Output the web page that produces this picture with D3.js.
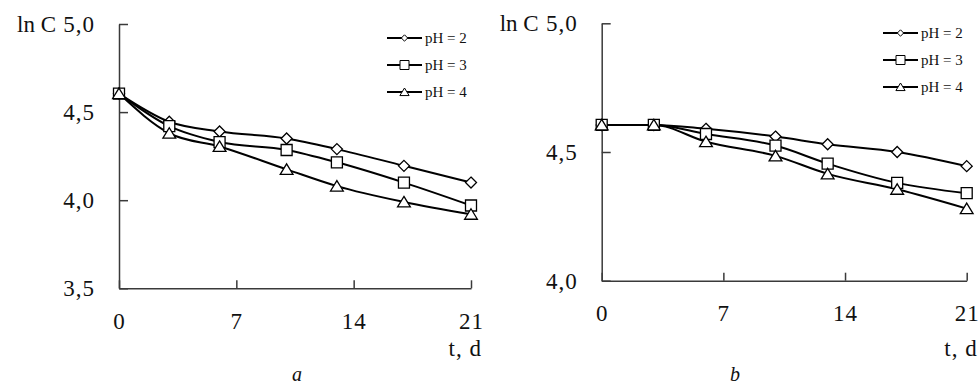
<!DOCTYPE html>
<html>
<head>
<meta charset="utf-8">
<script src="https://cdn.jsdelivr.net/npm/d3@7"></script>
<style>
  body { margin: 0; background: #fff; }
  svg { display: block; }
  text { font-family: "Liberation Serif", "Times New Roman", serif; fill: #111; }
  .axis path, .axis line { stroke: #3a3a3a; stroke-width: 1.5; }
  .axis text { font-family: "Liberation Serif", "Times New Roman", serif; font-size: 23px; letter-spacing: 1px; }
</style>
</head>
<body>
<svg id="chart" width="979" height="385"></svg>
<script>
// sampling days (same for both panels)
const days = [0, 3, 6, 10, 13, 17, 21]
const seriesNames = ['pH = 2', 'pH = 3', 'pH = 4']
const xTicks = [0, 7, 14, 21]

// panel a
const lnC_a_pH2 = [4.605, 4.445, 4.39, 4.35, 4.29, 4.195, 4.10]
const lnC_a_pH3 = [4.605, 4.42, 4.33, 4.285, 4.215, 4.10, 3.97]
const lnC_a_pH4 = [4.605, 4.38, 4.305, 4.175, 4.08, 3.99, 3.92]
const yTicks_a = [3.5, 4.0, 4.5, 5.0]

// panel b
const lnC_b_pH2 = [4.605, 4.605, 4.59, 4.56, 4.53, 4.50, 4.445]
const lnC_b_pH3 = [4.605, 4.605, 4.57, 4.525, 4.455, 4.38, 4.34]
const lnC_b_pH4 = [4.605, 4.605, 4.54, 4.485, 4.415, 4.355, 4.28]
const yTicks_b = [4.0, 4.5, 5.0]

const svg = d3.select('#chart')
const comma = (d) => d3.format('.1f')(d).replace('.', ',')
const markerTypes = ['diamond', 'square', 'triangle']

/**
 * Path for one marker, centred on 0,0.
 */
function markerPath (type, s) {
  if (type === 'diamond') return `M0,${-s}L${s},0L0,${s}L${-s},0Z`
  if (type === 'square') return `M${-s},${-s}H${s}V${s}H${-s}Z`
  return `M0,${-s * 0.95}L${s * 1.1},${s * 0.85}L${-s * 1.1},${s * 0.85}Z`
}

const plotSize = { diamond: 5.5, square: 5.5, triangle: 5.8 }
const legendSize = { diamond: 3.2, square: 4.5, triangle: 4.2 }

function drawPanel (p) {
  const g = svg.append('g')
  const x = d3.scaleLinear().domain([0, 21]).range([p.x0, p.x1])
  const y = d3.scaleLinear().domain(p.yDomain).range([p.y0, p.y1])

  // axes, ticks pointing inward
  g.append('g')
    .attr('class', 'axis')
    .attr('transform', `translate(0,${p.y0})`)
    .call(d3.axisBottom(x).tickValues(xTicks).tickSize(-8).tickPadding(24).tickSizeOuter(0))
    .attr('font-family', null).attr('font-size', null)
  g.append('g')
    .attr('class', 'axis')
    .attr('transform', `translate(${p.x0},0)`)
    .call(d3.axisLeft(y).tickValues(p.yTicks).tickFormat(comma).tickSize(-9).tickPadding(24).tickSizeOuter(0))
    .attr('font-family', null).attr('font-size', null)

  g.append('text')
    .attr('x', p.x0 - 63)
    .attr('y', y(5) + 8)
    .attr('text-anchor', 'end')
    .style('font-size', '23px')
    .text('ln C')

  g.append('text')
    .attr('x', p.x1 + 11)
    .attr('y', 356)
    .attr('text-anchor', 'end')
    .style('font-size', '23px')
    .style('letter-spacing', '1px')
    .text('t, d')

  g.append('text')
    .attr('x', p.captionX)
    .attr('y', 381)
    .attr('text-anchor', 'middle')
    .style('font-size', '20px')
    .style('font-style', 'italic')
    .text(p.caption)

  const line = d3.line()
    .x((d, i) => x(days[i]))
    .y((d) => y(d))
    .curve(d3.curveMonotoneX)

  g.selectAll('.series-line')
    .data(p.series)
    .enter()
    .append('path')
    .classed('series-line', true)
    .attr('d', line)
    .attr('fill', 'none')
    .attr('stroke', '#000')
    .attr('stroke-width', 2)

  p.series.forEach((vals, si) => {
    const type = markerTypes[si]
    g.selectAll('.mk' + si)
      .data(vals)
      .enter()
      .append('path')
      .attr('class', 'mk' + si)
      .attr('d', markerPath(type, plotSize[type]))
      .attr('transform', (d, i) => `translate(${x(days[i])},${y(d)})`)
      .attr('fill', '#fff')
      .attr('stroke', '#000')
      .attr('stroke-width', 1.3)
  })

  // legend
  const leg = g.append('g').attr('transform', `translate(${p.legX},${p.legY})`)
  seriesNames.forEach((name, i) => {
    const row = leg.append('g').attr('transform', `translate(0,${i * 27})`)
    const type = markerTypes[i]
    row.append('line')
      .attr('x1', 0).attr('x2', 35)
      .attr('stroke', '#000').attr('stroke-width', 2.2)
    row.append('path')
      .attr('d', markerPath(type, legendSize[type]))
      .attr('transform', 'translate(17.5,0)')
      .attr('fill', '#fff')
      .attr('stroke', '#000')
      .attr('stroke-width', 1)
    row.append('text')
      .attr('x', 38)
      .attr('y', 5)
      .style('font-size', '15px')
      .text(name)
  })
}

drawPanel({
  x0: 119, x1: 471, y0: 288.3, y1: 24,
  yDomain: [3.5, 5.0], yTicks: yTicks_a,
  series: [lnC_a_pH2, lnC_a_pH3, lnC_a_pH4],
  legX: 387, legY: 38, caption: 'a', captionX: 297
})

drawPanel({
  x0: 601.7, x1: 966.7, y0: 280.7, y1: 23.3,
  yDomain: [4.0, 5.0], yTicks: yTicks_b,
  series: [lnC_b_pH2, lnC_b_pH3, lnC_b_pH4],
  legX: 883, legY: 33, caption: 'b', captionX: 735
})
</script>
</body>
</html>
